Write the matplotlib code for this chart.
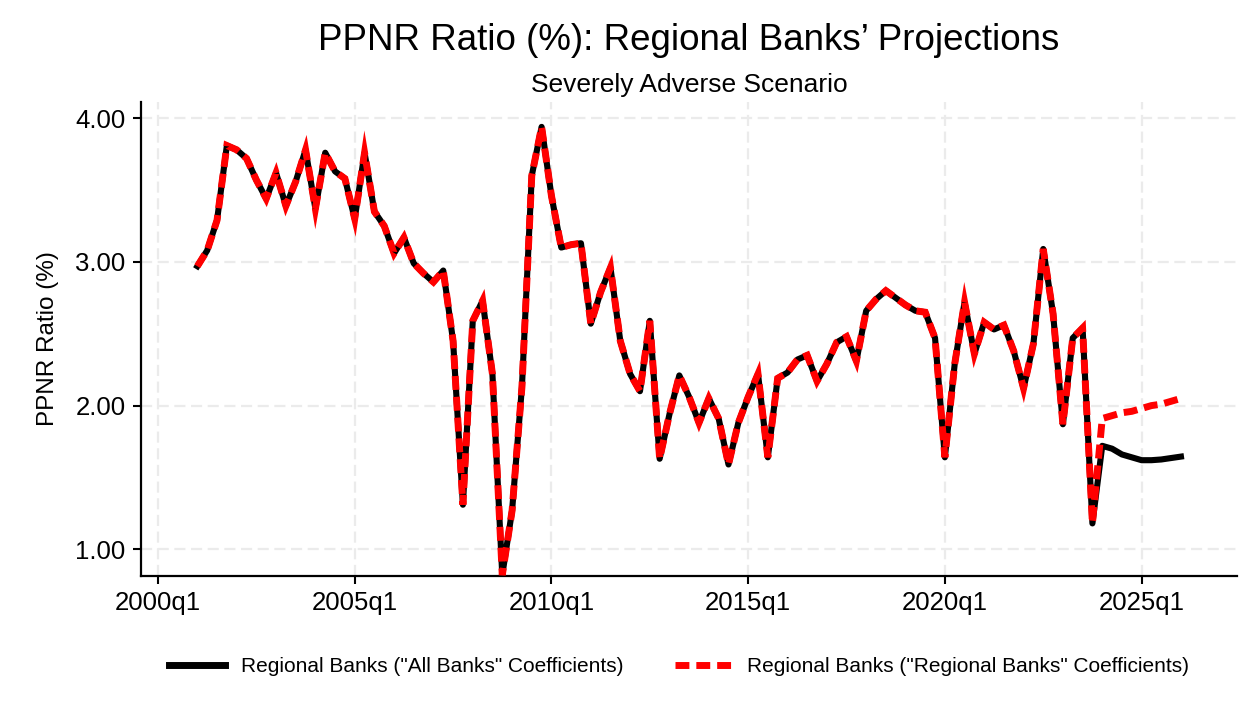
import matplotlib.pyplot as plt
from matplotlib.lines import Line2D

plt.rcParams['font.family'] = ['Liberation Sans', 'DejaVu Sans']

# history, 2001q1 - 2023q4 (same for both series)
hist_start = '2001q1'
history = [2.97, 3.08, 3.29, 3.81,
           3.78, 3.72, 3.57, 3.44,
           3.62, 3.39, 3.56, 3.78,
           3.37, 3.76, 3.63, 3.58,
           3.30, 3.76, 3.35, 3.25,
           3.06, 3.17, 2.99, 2.92,
           2.86, 2.94, 2.45, 1.31,
           2.59, 2.73, 2.22, 0.82,
           1.27, 2.13, 3.60, 3.94,
           3.46, 3.10, 3.12, 3.13,
           2.57, 2.79, 2.96, 2.45,
           2.22, 2.10, 2.59, 1.63,
           1.94, 2.21, 2.06, 1.88,
           2.05, 1.91, 1.59, 1.88,
           2.06, 2.22, 1.64, 2.19,
           2.23, 2.32, 2.35, 2.17,
           2.29, 2.44, 2.48, 2.31,
           2.66, 2.74, 2.80, 2.75,
           2.70, 2.66, 2.65, 2.47,
           1.64, 2.29, 2.72, 2.36,
           2.58, 2.53, 2.56, 2.38,
           2.12, 2.43, 3.09, 2.64,
           1.87, 2.47, 2.54, 1.18]

# projections, 2024q1 - 2026q1
proj_all_banks = [1.72, 1.70, 1.66, 1.64, 1.62, 1.62, 1.625, 1.635, 1.645]
proj_regional = [1.91, 1.93, 1.95, 1.96, 1.98, 2.00, 2.01, 2.03, 2.05]

tick_years = [2000, 2005, 2010, 2015, 2020, 2025]
ytick_vals = [1.0, 2.0, 3.0, 4.0]


def qindex(label):
    # quarters since 2000q1
    y, q = label.split('q')
    return (int(y) - 2000) * 4 + int(q) - 1


x0 = qindex(hist_start)
black_y = history + proj_all_banks
red_y = history + proj_regional
xs = list(range(x0, x0 + len(black_y)))

fig = plt.figure(figsize=(12.5, 7.02), dpi=100)
ax = fig.add_axes([141 / 1250, 1 - 576 / 702, (1237 - 141) / 1250, (576 - 102) / 702])

ax.plot(xs, black_y, color='black', lw=4.4, solid_joinstyle='round', zorder=3)
ax.plot(xs, red_y, color='red', lw=5, linestyle=(0, (2, 1)),
        dash_joinstyle='miter', dash_capstyle='butt', zorder=4)

ax.set_xlim(-1.73, 109.7)
ax.set_ylim(0.814, 4.113)
ax.set_xticks([(y - 2000) * 4 for y in tick_years])
ax.set_xticklabels([f'{y}q1' for y in tick_years])
ax.set_yticks(ytick_vals)
ax.set_yticklabels([f'{v:.2f}' for v in ytick_vals])
ax.tick_params(axis='both', labelsize=18.5, length=6, width=1.5, direction='out', pad=5)

ax.grid(True, color='#ebebeb', lw=1.6, linestyle=(0, (5, 2.5)))
ax.set_axisbelow(True)
for s in ['top', 'right']:
    ax.spines[s].set_visible(False)
for s in ['left', 'bottom']:
    ax.spines[s].set_linewidth(1.6)

ax.set_ylabel('PPNR Ratio (%)', fontsize=17.5, labelpad=12)

fig.text(689 / 1250, 1 - 40 / 702, 'PPNR Ratio (%): Regional Banks\u2019 Projections',
         ha='center', va='center', fontsize=26.5)
fig.text(689 / 1250, 1 - 85 / 702, 'Severely Adverse Scenario',
         ha='center', va='center', fontsize=19)

handles = [Line2D([], [], color='black', lw=5),
           Line2D([], [], color='red', lw=5, linestyle=(0, (2, 1)), dash_capstyle='butt')]
labels = ['Regional Banks ("All Banks" Coefficients)',
          'Regional Banks ("Regional Banks" Coefficients)']
fig.legend(handles, labels, loc='center', bbox_to_anchor=(679 / 1250, 1 - 667 / 702),
           ncol=2, frameon=False, fontsize=15, handlelength=2.7,
           handletextpad=0.75, columnspacing=2.5)

fig.savefig('out.png', dpi=100)
